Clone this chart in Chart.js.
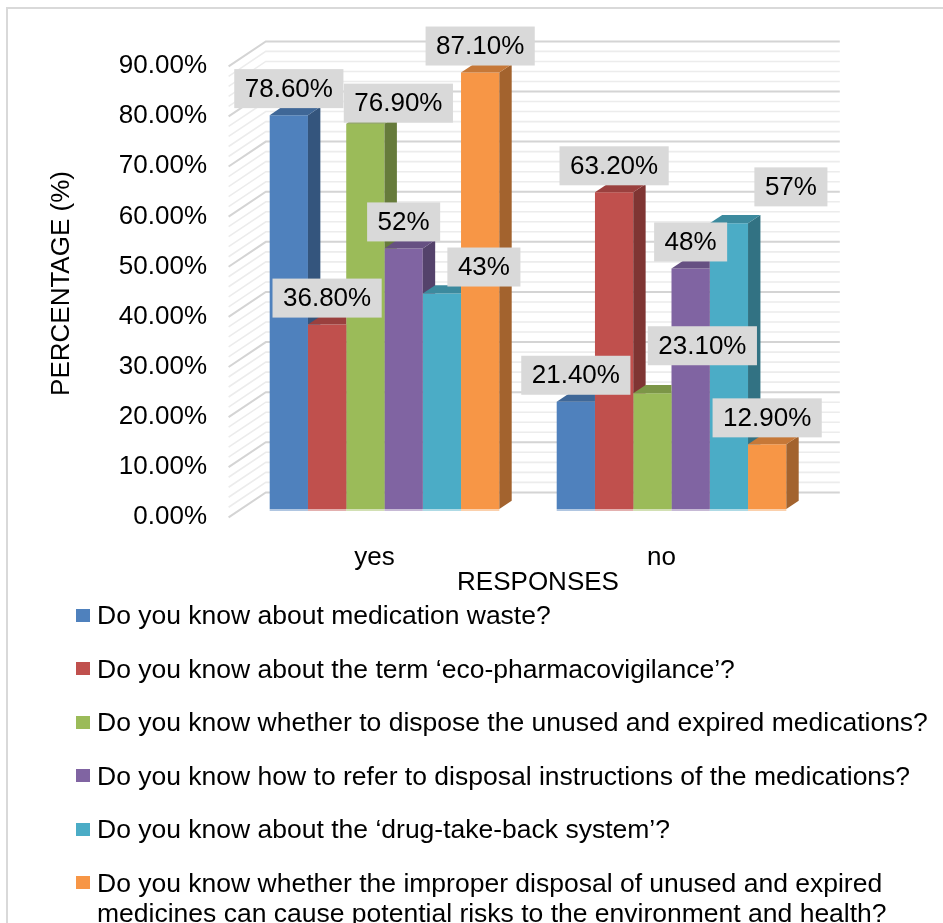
<!DOCTYPE html>
<html>
<head>
<meta charset="utf-8">
<script src="https://cdn.jsdelivr.net/npm/chart.js@4.4.1/dist/chart.umd.min.js"></script>
<style>
  html, body { margin: 0; padding: 0; background: #fff; }
  #wrap { position: relative; width: 943px; height: 923px; overflow: hidden; }
  #c { position: absolute; left: 0; top: 0; }
  #legend {
    position: absolute; left: 76px; top: 600px; width: 866px;
    font-family: "Liberation Sans", Arial, sans-serif; font-size: 26.5px; color: #000;
  }
  .item { display: flex; align-items: flex-start; margin-bottom: 23.6px; line-height: 30px; }
  .sw { width: 14px; height: 13px; flex: none; margin-top: 8.5px; margin-right: 7px; }
</style>
</head>
<body>
<div id="wrap">
  <canvas id="c" width="943" height="923"></canvas>
  <div id="legend"></div>
</div>
<script>
// Survey responses (percent of respondents)
const categories = ['yes', 'no'];
const questions = [
  'Do you know about medication waste?',
  'Do you know about the term \u2018eco-pharmacovigilance\u2019?',
  'Do you know whether to dispose the unused and expired medications?',
  'Do you know how to refer to disposal instructions of the medications?',
  'Do you know about the \u2018drug-take-back system\u2019?',
  'Do you know whether the improper disposal of unused and expired medicines can cause potential risks to the environment and health?'
];
const yesValues = [78.6, 36.8, 76.9, 52, 43, 87.1];
const noValues  = [21.4, 63.2, 23.1, 48, 57, 12.9];
const yTickLabels = ['0.00%', '10.00%', '20.00%', '30.00%', '40.00%', '50.00%', '60.00%', '70.00%', '80.00%', '90.00%'];

// Styling
const seriesColors = ['#4F81BD', '#C0504D', '#9BBB59', '#8064A2', '#4BACC6', '#F79646'];
const FONT = '"Liberation Sans", Arial, sans-serif';
const DX = 12.4, DY = 8.3;          // one bar-depth step of the oblique projection
const MINOR_STEP = 2;               // minor gridline spacing (percent)
// hand-placed data labels: "dataset-category" -> [dx, dy] in px
const labelNudge = { '2-0': [33, 6], '4-0': [42, 0], '2-1': [50, -21], '4-1': [62, -10] };

function shade(hex, f, a) {
  const n = parseInt(hex.slice(1), 16);
  const r = Math.round(((n >> 16) & 255) * f), g = Math.round(((n >> 8) & 255) * f), b = Math.round((n & 255) * f);
  return a === undefined ? `rgb(${r},${g},${b})` : `rgba(${r},${g},${b},${a})`;
}
function fmtValue(v) { return Number.isInteger(v) ? v + '%' : v.toFixed(2) + '%'; }
function barGeom(chart, i, j) {
  const p = chart.getDatasetMeta(i).data[j].getProps(['x', 'y', 'base', 'width'], true);
  return { l: p.x - p.width / 2, r: p.x + p.width / 2, x: p.x, top: p.y, base: p.base, w: p.width };
}

const depthPlugin = {
  id: 'depth3d',
  beforeDraw(chart) {
    const ctx = chart.ctx;
    ctx.save();
    ctx.strokeStyle = '#d9d9d9';
    ctx.lineWidth = 2;
    ctx.beginPath();
    ctx.moveTo(7, chart.height);
    ctx.lineTo(7, 8);
    ctx.lineTo(chart.width, 8);
    ctx.stroke();
    ctx.restore();
  },
  beforeDatasetsDraw(chart) {
    // back wall and side wall gridlines
    const ctx = chart.ctx, ys = chart.scales.y, a = chart.chartArea;
    ctx.save();
    for (let v = ys.min; v <= ys.max + 1e-9; v += MINOR_STEP) {
      const major = Math.abs(v % 10) < 1e-9;
      const py = ys.getPixelForValue(v);
      ctx.strokeStyle = major ? '#d4d4d4' : '#ececec';
      ctx.lineWidth = major ? 2 : 1.6;
      ctx.beginPath();
      ctx.moveTo(a.left - DX, py + DY);
      ctx.lineTo(a.left + 2 * DX, py - 2 * DY);
      ctx.lineTo(a.right + 2 * DX, py - 2 * DY);
      ctx.stroke();
    }
    ctx.restore();
  },
  afterDatasetsDraw(chart) {
    const ctx = chart.ctx;
    const n = chart.data.datasets.length;
    // side and top faces, left to right
    for (let j = 0; j < categories.length; j++) {
      for (let i = 0; i < n; i++) {
        const g = barGeom(chart, i, j);
        const col = seriesColors[i];
        ctx.save();
        ctx.fillStyle = shade(col, 1, 0.45);
        ctx.fillRect(g.l, g.base, g.w, 2);
        if (i + 1 < n) {
          const nb = barGeom(chart, i + 1, j);
          ctx.beginPath();
          ctx.rect(0, 0, chart.width, chart.height);
          ctx.rect(nb.l, nb.top, nb.w, nb.base - nb.top);
          ctx.clip('evenodd');
        }
        ctx.fillStyle = shade(col, 0.66);
        ctx.beginPath();
        ctx.moveTo(g.r, g.top);
        ctx.lineTo(g.r + DX, g.top - DY);
        ctx.lineTo(g.r + DX, g.base - DY);
        ctx.lineTo(g.r, g.base);
        ctx.closePath();
        ctx.fill();
        ctx.fillStyle = shade(col, 0.8);
        ctx.beginPath();
        ctx.moveTo(g.l, g.top);
        ctx.lineTo(g.r, g.top);
        ctx.lineTo(g.r + DX, g.top - DY);
        ctx.lineTo(g.l + DX, g.top - DY);
        ctx.closePath();
        ctx.fill();
        ctx.restore();
      }
    }
    // value labels
    ctx.save();
    ctx.font = '26px ' + FONT;
    ctx.textAlign = 'center';
    ctx.textBaseline = 'middle';
    for (let j = 0; j < categories.length; j++) {
      for (let i = 0; i < n; i++) {
        const g = barGeom(chart, i, j);
        const text = fmtValue(chart.data.datasets[i].data[j]);
        const w = ctx.measureText(text).width + 21, h = 39;
        const nudge = labelNudge[i + '-' + j] || [0, 0];
        const cx = g.x + nudge[0];
        const bottom = g.top - 7 + nudge[1];
        ctx.fillStyle = '#d9d9d9';
        ctx.fillRect(cx - w / 2, bottom - h, w, h);
        ctx.fillStyle = '#000';
        ctx.fillText(text, cx, bottom - h / 2 + 1);
      }
    }
    ctx.restore();
  },
  afterDraw(chart) {
    const ctx = chart.ctx;
    ctx.save();
    ctx.font = '26px ' + FONT;
    ctx.fillStyle = '#000';
    ctx.textAlign = 'center';
    ctx.textBaseline = 'middle';
    ctx.fillText('RESPONSES', 538, 583);
    ctx.restore();
  }
};

const chart = new Chart(document.getElementById('c'), {
  type: 'bar',
  data: {
    labels: categories,
    datasets: questions.map((q, i) => ({
      label: q,
      data: [yesValues[i], noValues[i]],
      backgroundColor: seriesColors[i],
      borderWidth: 0
    }))
  },
  options: {
    responsive: false,
    animation: false,
    devicePixelRatio: 1,
    layout: { padding: { left: 40, right: 128, top: 58, bottom: 334 } },
    datasets: { bar: { categoryPercentage: 0.8, barPercentage: 1.0 } },
    plugins: { legend: { display: false }, tooltip: { enabled: false } },
    scales: {
      x: {
        grid: { display: false, drawTicks: false },
        border: { display: false },
        ticks: { color: '#000', font: { family: FONT, size: 26 }, padding: 33, labelOffset: -10 },
        afterFit(s) { s.height = 80; }
      },
      y: {
        min: 0, max: 90,
        grid: { display: false, drawTicks: false },
        border: { display: false },
        ticks: {
          stepSize: 10, color: '#000', padding: 34, labelOffset: 8,
          font: { family: FONT, size: 26 },
          callback: (v, idx) => yTickLabels[idx]
        },
        title: { display: true, text: 'PERCENTAGE (%)', color: '#000', font: { family: FONT, size: 26 }, padding: 6 },
        afterFit(s) { s.width = 201; }
      }
    }
  },
  plugins: [depthPlugin]
});

// legend below the plot
const legend = document.getElementById('legend');
questions.forEach((q, i) => {
  const row = document.createElement('div');
  row.className = 'item';
  const sw = document.createElement('span');
  sw.className = 'sw';
  sw.style.background = seriesColors[i];
  const tx = document.createElement('span');
  tx.textContent = q;
  row.appendChild(sw);
  row.appendChild(tx);
  legend.appendChild(row);
});
</script>
</body>
</html>
